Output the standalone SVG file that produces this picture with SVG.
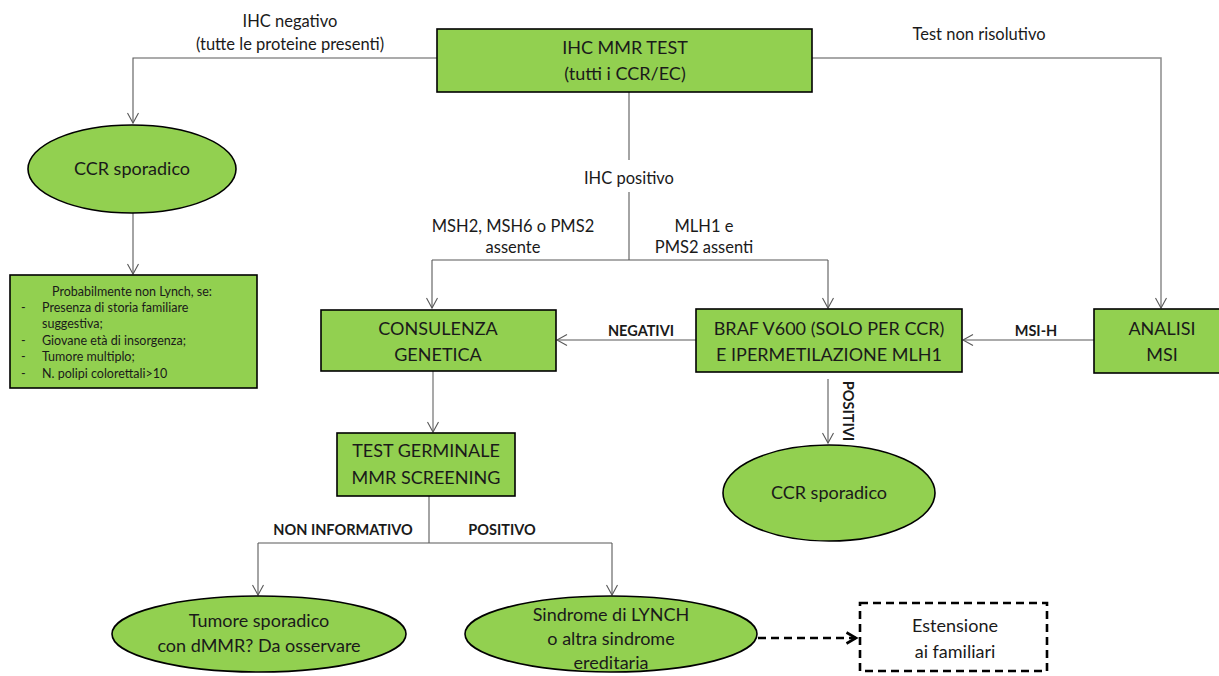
<svg xmlns="http://www.w3.org/2000/svg" width="1219" height="676" viewBox="0 0 1219 676">
<style>
.box{fill:#92D050;stroke:#000;stroke-width:1.6}
.t{font-family:Lato,"Open Sans",sans-serif;font-size:18px;fill:#1a1a1a;text-anchor:middle}
.lbl{font-family:Lato,"Open Sans",sans-serif;font-size:16.5px;fill:#1a1a1a;text-anchor:middle}
.b{font-family:Lato,"Open Sans",sans-serif;font-size:14.5px;font-weight:bold;fill:#1a1a1a;text-anchor:middle}
.s{font-family:Lato,"Open Sans",sans-serif;font-size:12.5px;fill:#1a1a1a}
.c{fill:none;stroke:#595959;stroke-width:1.1}
</style>
<defs>
<marker id="ah" markerUnits="userSpaceOnUse" markerWidth="14" markerHeight="14" refX="11" refY="6" orient="auto">
<path d="M1,0.5 L11,6 L1,11.5" fill="none" stroke="#595959" stroke-width="1.1"/>
</marker>
<marker id="ahd" markerUnits="userSpaceOnUse" markerWidth="14" markerHeight="16" refX="11" refY="7" orient="auto">
<path d="M1.5,1.5 L11,7 L1.5,12.5" fill="none" stroke="#000" stroke-width="2.6"/>
</marker>
</defs>
<rect width="1219" height="676" fill="#fff"/>
<g id="connectors">
<path class="c" d="M437,58 H133 V123" marker-end="url(#ah)"/>
<path d="M812,58 H1161 V308" fill="none" stroke="#8c8c8c" stroke-width="1.5" marker-end="url(#ah)"/>
<path class="c" d="M629,92 V160"/>
<path class="c" d="M629,192 V260"/>
<path class="c" d="M432,260 H828"/>
<path class="c" d="M432,260 V308" marker-end="url(#ah)"/>
<path class="c" d="M828,260 V308" marker-end="url(#ah)"/>
<path class="c" d="M133,213 V274" marker-end="url(#ah)"/>
<path class="c" d="M1094,340 H963" marker-end="url(#ah)"/>
<path class="c" d="M696,340 H557" marker-end="url(#ah)"/>
<path class="c" d="M828,379 V443" marker-end="url(#ah)"/>
<path d="M433,371 V432" fill="none" stroke="#8c8c8c" stroke-width="1.5" marker-end="url(#ah)"/>
<path class="c" d="M429,496 V543"/>
<path class="c" d="M258,543 H612"/>
<path class="c" d="M258,543 V595" marker-end="url(#ah)"/>
<path class="c" d="M612,543 V595" marker-end="url(#ah)"/>
<path d="M758,638 H856" fill="none" stroke="#000" stroke-width="2.6" stroke-dasharray="8,5" marker-end="url(#ahd)"/>
<text class="lbl" x="290" y="27">IHC negativo</text>
<text class="lbl" x="290" y="50">(tutte le proteine presenti)</text>
<text class="lbl" x="979" y="40">Test non risolutivo</text>
<text class="lbl" x="629" y="184">IHC positivo</text>
<text class="lbl" x="513" y="232">MSH2, MSH6 o PMS2</text>
<text class="lbl" x="513" y="253">assente</text>
<text class="lbl" x="704" y="232" text-anchor="start">MLH1 e</text>
<text class="lbl" x="704" y="253" text-anchor="start">PMS2 assenti</text>
<text class="b" x="641" y="336">NEGATIVI</text>
<text class="b" x="1036" y="336">MSI-H</text>
<text class="b" transform="translate(843,411) rotate(90)">POSITIVI</text>
<text class="b" x="343" y="535">NON INFORMATIVO</text>
<text class="b" x="502" y="535">POSITIVO</text>
</g>
<g id="n-ihc">
<rect class="box" x="437" y="29" width="375" height="63"/>
<text class="t" x="625" y="54">IHC MMR TEST</text>
<text class="t" x="625" y="80">(tutti i CCR/EC)</text>
</g>
<g id="n-ccr1">
<ellipse class="box" cx="132" cy="169" rx="104" ry="44"/>
<text class="t" x="132" y="175">CCR sporadico</text>
</g>
<g id="n-lynchno">
<rect class="box" x="10" y="275" width="247" height="113"/>
<text class="s" x="132" y="296" text-anchor="middle">Probabilmente non Lynch, se:</text>
<text class="s" x="21" y="312">-</text><text class="s" x="42" y="312">Presenza di storia familiare</text>
<text class="s" x="42" y="328">suggestiva;</text>
<text class="s" x="21" y="345">-</text><text class="s" x="42" y="345">Giovane età di insorgenza;</text>
<text class="s" x="21" y="361">-</text><text class="s" x="42" y="361">Tumore multiplo;</text>
<text class="s" x="21" y="378">-</text><text class="s" x="42" y="378">N. polipi colorettali&gt;10</text>
</g>
<g id="n-consulenza">
<rect class="box" x="321" y="310" width="235" height="61"/>
<text class="t" x="438" y="335">CONSULENZA</text>
<text class="t" x="438" y="361">GENETICA</text>
</g>
<g id="n-braf">
<rect class="box" x="696" y="309" width="266" height="63"/>
<text class="t" x="829" y="335">BRAF V600 (SOLO PER CCR)</text>
<text class="t" x="829" y="361">E IPERMETILAZIONE MLH1</text>
</g>
<g id="n-msi">
<rect class="box" x="1094" y="309" width="130" height="64"/>
<text class="t" x="1162" y="335">ANALISI</text>
<text class="t" x="1162" y="361">MSI</text>
</g>
<g id="n-ccr2">
<ellipse class="box" cx="829" cy="493" rx="106" ry="48"/>
<text class="t" x="829" y="499">CCR sporadico</text>
</g>
<g id="n-germinale">
<rect class="box" x="337" y="433" width="178" height="63"/>
<text class="t" x="426" y="457">TEST GERMINALE</text>
<text class="t" x="426" y="484">MMR SCREENING</text>
</g>
<g id="n-tumore">
<ellipse class="box" cx="259" cy="634" rx="147" ry="38"/>
<text class="t" x="259" y="627">Tumore sporadico</text>
<text class="t" x="259" y="652">con dMMR? Da osservare</text>
</g>
<g id="n-lynch">
<ellipse class="box" cx="611" cy="634" rx="146" ry="38"/>
<text class="t" x="611" y="621">Sindrome di LYNCH</text>
<text class="t" x="611" y="645">o altra sindrome</text>
<text class="t" x="611" y="669">ereditaria</text>
</g>
<g id="n-estensione">
<rect x="860" y="603" width="187" height="68" fill="#fff" stroke="#000" stroke-width="2.6" stroke-dasharray="8,5"/>
<text class="t" x="955" y="632">Estensione</text>
<text class="t" x="955" y="658">ai familiari</text>
</g>
</svg>
